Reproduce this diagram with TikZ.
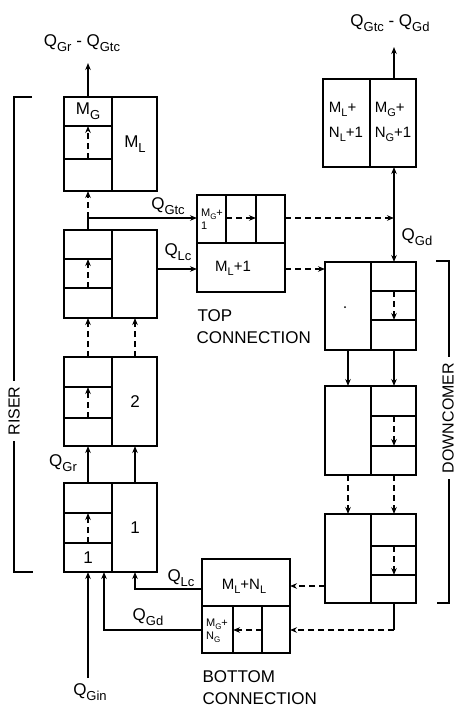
\documentclass[tikz,border=0pt]{standalone}
\usepackage{fontspec}
\setmainfont{Liberation Sans}
\usetikzlibrary{arrows.meta}
\newcommand\lowsub[2][13]{\raisebox{-0.28em}{\fontsize{#1}{#1}\selectfont #2}}
\begin{document}
\begin{tikzpicture}[x=1pt,y=-1pt,line width=1.3pt,
  cell/.style={draw,rectangle,line width=1.4pt,inner sep=0pt,outer sep=0pt,anchor=north west},
  arr/.style={-{Stealth[length=7pt,width=5.5pt]}},
  dsh/.style={dash pattern=on 6pt off 4pt},
  lbl/.style={font=\fontsize{17}{20}\selectfont,inner sep=0pt},
  small/.style={font=\fontsize{11}{13}\selectfont,inner sep=0pt,align=left},
  mid/.style={font=\fontsize{15}{25}\selectfont,inner sep=0pt,align=left},
  side/.style={font=\fontsize{16}{19}\selectfont,rotate=90,fill=white,inner xsep=6pt,inner ysep=0pt}]
\useasboundingbox (0,0) rectangle (458,710);
% column coordinates
\coordinate (xL) at (88,0);
\coordinate (xR) at (135,0);
\coordinate (xg) at (104,0);
\coordinate (dL) at (348,0);
\coordinate (dR) at (394,0);
\coordinate (ylc) at (0,269);
\coordinate (ylb) at (0,589);
\coordinate (ygd) at (0,630);
\coordinate (yml) at (0,586);
% riser cells
\node[cell,minimum width=93pt,minimum height=94pt] (r4) at (64,97) {};
\node[cell,minimum width=93pt,minimum height=88pt] (r3) at (64,230) {};
\node[cell,minimum width=93pt,minimum height=89pt] (r2) at (64,357) {};
\node[cell,minimum width=93pt,minimum height=89pt] (r1) at (64,483) {};
\draw (112,97) -- (112,191) (64,126) -- (112,126) (64,159) -- (112,159);
\draw (112,230) -- (112,318) (64,259) -- (112,259) (64,288) -- (112,288);
\draw (112,357) -- (112,446) (64,387) -- (112,387) (64,418) -- (112,418);
\draw (112,483) -- (112,572) (64,513) -- (112,513) (64,543) -- (112,543);
% top connection, top right cell
\node[cell,minimum width=88pt,minimum height=97pt] (tc) at (197,195) {};
\draw (197,243) -- (285,243) (226,195) -- (226,243) (256,195) -- (256,243);
\node[cell,minimum width=93pt,minimum height=88pt] (tr) at (323,79) {};
\draw (370,79) -- (370,167);
% downcomer cells
\node[cell,minimum width=91pt,minimum height=88pt] (d3) at (325,262) {};
\node[cell,minimum width=91pt,minimum height=89pt] (d2) at (325,386) {};
\node[cell,minimum width=91pt,minimum height=89pt] (d1) at (325,514) {};
\draw (371,262) -- (371,350) (371,291) -- (416,291) (371,320) -- (416,320);
\draw (371,386) -- (371,475) (371,416) -- (416,416) (371,446) -- (416,446);
\draw (371,514) -- (371,603) (371,546) -- (416,546) (371,575) -- (416,575);
\fill (345,307) circle (1pt);
% bottom connection
\node[cell,minimum width=88pt,minimum height=94pt] (bc) at (202,559) {};
\draw (202,606) -- (290,606) (233,606) -- (233,653) (262,606) -- (262,653);
% inner dashed arrows
\draw[arr,dsh] (88,159) -- (88,126);
\draw[arr,dsh] (88,288) -- (88,259);
\draw[arr,dsh] (88,418) -- (88,387);
\draw[arr,dsh] (88,543) -- (88,513);
\draw[arr,dsh] (394,291) -- (394,320);
\draw[arr,dsh] (394,416) -- (394,446);
\draw[arr,dsh] (394,546) -- (394,575);
\draw[arr,dsh] (226,218) -- (256,218);
\draw[arr,dsh] (262,630) -- (233,630);
% riser connectors
\coordinate (outR) at (88,63);
\draw[arr] (r4.north -| xL) -- (outR);
\coordinate (jg) at (88,218);
\draw[arr,dsh] (jg) -- (r4.south -| xL);
\draw[arr] (r3.north -| xL) -- (jg) -- (tc.west |- jg);
\draw[arr] (r3.east |- ylc) -- (tc.west |- ylc);
\draw[arr,dsh] (r2.north -| xL) -- (r3.south -| xL);
\draw[arr,dsh] (r2.north -| xR) -- (r3.south -| xR);
\draw[arr] (r1.north -| xL) -- (r2.south -| xL);
\draw[arr] (r1.north -| xR) -- (r2.south -| xR);
\coordinate (gin) at (88,678);
\draw[arr] (gin) -- (r1.south -| xL);
\draw[arr] (bc.west |- ygd) -| (r1.south -| xg);
\draw[arr] (bc.west |- ylb) -| (r1.south -| xR);
% top connection outputs
\coordinate (jd) at (394,218);
\draw[arr,dsh] (tc.east |- jd) -- (jd);
\draw[arr] (jd) -- (tr.south -| jd);
\draw[arr] (jd) -- (d3.north -| jd);
\draw[arr,dsh] (tc.east |- ylc) -- (d3.west |- ylc);
\coordinate (outD) at (394,47);
\draw[arr] (tr.north -| jd) -- (outD);
% downcomer connectors
\draw[arr] (d3.south -| dL) -- (d2.north -| dL);
\draw[arr] (d3.south -| dR) -- (d2.north -| dR);
\draw[arr,dsh] (d2.south -| dL) -- (d1.north -| dL);
\draw[arr,dsh] (d2.south -| dR) -- (d1.north -| dR);
\draw[arr,dsh] (d1.west |- yml) -- (bc.east |- yml);
\draw (d1.south -| dR) -- (dR |- ygd);
\draw[arr,dsh] (dR |- ygd) -- (bc.east |- ygd);
% brackets
\draw (32,97) -- (14,97) -- (14,572) -- (33,572);
\draw (436,261) -- (449,261) -- (449,603) -- (437,603);
\node[side] (riser) at (14,411) {RISER};
\node[side] (down) at (448,418) {DOWNCOMER};
% labels
\node[lbl] (l1) at (82,43) {Q\lowsub{Gr} - Q\lowsub{Gtc}};
\node[lbl] (l2) at (390,23) {Q\lowsub{Gtc} - Q\lowsub{Gd}};
\node[lbl] (l3) at (168,206) {Q\lowsub{Gtc}};
\node[lbl] (l4) at (178,252) {Q\lowsub{Lc}};
\node[lbl] (l5) at (417,237) {Q\lowsub{Gd}};
\node[lbl] (l6) at (63,463) {Q\lowsub{Gr}};
\node[lbl] (l7) at (181,578) {Q\lowsub{Lc}};
\node[lbl] (l8) at (148,617) {Q\lowsub{Gd}};
\node[lbl] (l9) at (90,692) {Q\lowsub{Gin}};
\node[lbl] (t1) at (88,111) {M\lowsub{G}};
\node[lbl] (t2) at (135,144) {M\lowsub{L}};
\node[lbl] (t3) at (135,402) {2};
\node[lbl] (t4) at (135,528) {1};
\node[lbl] (t5) at (88,558) {1};
\node[small] (t6) at (212,219) {M\lowsub[8]{G}+\\1};
\node[lbl,font=\fontsize{15}{18}\selectfont] (t7) at (233,268) {M\lowsub[11]{L}+1};
\node[mid] (t8) at (346,122) {M\lowsub[11]{L}+\\N\lowsub[11]{L}+1};
\node[mid] (t9) at (393,122) {M\lowsub[11]{G}+\\N\lowsub[11]{G}+1};
\node[lbl,font=\fontsize{15}{18}\selectfont] (t10) at (244,586) {M\lowsub[11]{L}+N\lowsub[11]{L}};
\node[small] (t11) at (217,631) {M\lowsub[8]{G}+\\N\lowsub[8]{G}};
\node[lbl,anchor=west] (c1) at (197,316) {TOP};
\node[lbl,anchor=west] (c2) at (196,338) {CONNECTION};
\node[lbl,anchor=west] (c3) at (202,677) {BOTTOM};
\node[lbl,anchor=west] (c4) at (202,699) {CONNECTION};
\end{tikzpicture}
\end{document}
